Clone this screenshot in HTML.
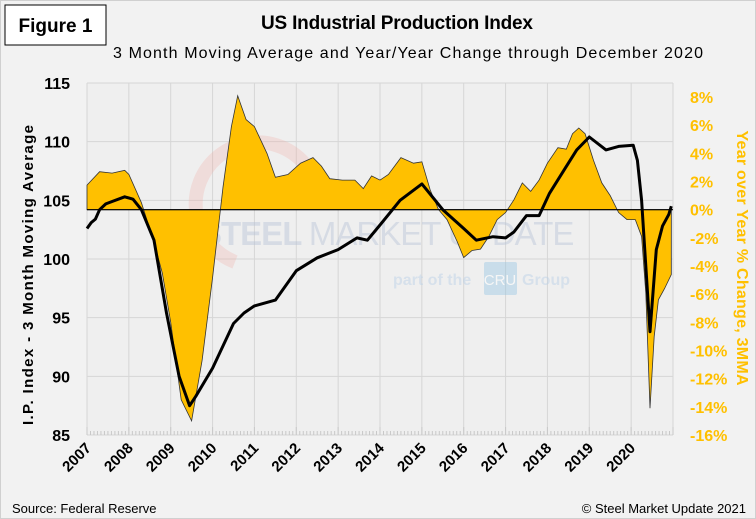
<!DOCTYPE html>
<html><head><meta charset="utf-8"><style>
body{margin:0;background:#f2f2f2;}
svg{display:block;font-family:"Liberation Sans",sans-serif;}
</style></head><body>
<svg id="chart" width="756" height="519" viewBox="0 0 756 519" xmlns="http://www.w3.org/2000/svg">
<rect x="0.5" y="0.5" width="755" height="518" fill="#f2f2f2" stroke="#d0d0d0"/>
<rect x="87" y="83" width="586" height="352" fill="#efefef"/>
<g id="grid"></g>
<g id="wm" opacity="0.45">
<path d="M235,262 A62,62 0 1 1 318,190" fill="none" stroke="#f0a8a0" stroke-width="14" opacity="0.6"/>
<text x="200" y="245" font-size="33" font-weight="bold" fill="#b8c4d8" letter-spacing="-1">STEEL <tspan font-weight="normal">MARKET UPDATE</tspan></text>
<text x="393" y="285" font-size="16" font-weight="bold" fill="#b8d0e8">part of the</text>
<rect x="484" y="262" width="33" height="33" rx="2" fill="#9cc8e4"/>
<text x="500" y="285" font-size="15" fill="#fff" text-anchor="middle">CRU</text>
<text x="522" y="285" font-size="16" font-weight="bold" fill="#b8d0e8">Group</text>
</g>
<g id="series"></g>
<g id="axes"></g>
<rect x="5" y="5" width="101" height="40" fill="#fff" stroke="#000"/>
<text x="55.5" y="32" font-size="19" font-weight="bold" text-anchor="middle">Figure 1</text>
<text x="397" y="29" font-size="19" font-weight="bold" text-anchor="middle" textLength="272">US Industrial Production  Index</text>
<text x="408" y="58" font-size="16" text-anchor="middle" textLength="590">3 Month Moving Average and Year/Year Change through December 2020</text>
<text transform="translate(33,275) rotate(-90)" font-size="15" font-weight="bold" text-anchor="middle" textLength="300">I.P. Index - 3 Month Moving Average</text>
<text transform="translate(737,258) rotate(90)" font-size="16" font-weight="bold" fill="#ffc000" text-anchor="middle" textLength="255">Year over Year % Change, 3MMA</text>
<text x="12" y="513" font-size="13">Source: Federal Reserve</text>
<text x="746" y="513" font-size="13" text-anchor="end">© Steel Market Update 2021</text>
</svg>
<script>
const ipDates=[2007.0,2007.1,2007.2,2007.3,2007.45,2007.6,2007.9,2008.1,2008.3,2008.6,2008.9,2009.2,2009.45,2009.6,2010.0,2010.5,2010.75,2011.0,2011.5,2012.0,2012.5,2013.0,2013.45,2013.7,2014.0,2014.48,2015.0,2015.5,2016.0,2016.3,2016.7,2017.0,2017.2,2017.5,2017.8,2018.05,2018.4,2018.7,2019.0,2019.4,2019.7,2020.05,2020.15,2020.25,2020.45,2020.6,2020.75,2020.9,2020.96];
const ipValues=[102.6,103.1,103.4,104.2,104.7,104.9,105.3,105.1,104.2,101.6,95.4,90,87.5,88.3,90.7,94.5,95.4,96.0,96.5,99,100.1,100.8,101.8,101.6,102.9,105.0,106.4,104.2,102.6,101.6,101.9,101.8,102.3,103.7,103.7,105.6,107.6,109.3,110.4,109.3,109.6,109.7,108.4,105,93.8,100.8,102.8,103.8,104.5];
const yoyDates=[2007.0,2007.3,2007.6,2007.9,2008.0,2008.3,2008.6,2008.8,2009.0,2009.25,2009.5,2009.75,2010.0,2010.25,2010.45,2010.6,2010.8,2011.0,2011.3,2011.5,2011.8,2012.1,2012.4,2012.6,2012.8,2013.1,2013.4,2013.6,2013.8,2014.0,2014.2,2014.5,2014.8,2015.0,2015.2,2015.4,2015.6,2015.85,2016.0,2016.2,2016.4,2016.6,2016.8,2017.0,2017.2,2017.4,2017.6,2017.8,2018.0,2018.25,2018.45,2018.6,2018.75,2018.9,2019.1,2019.3,2019.5,2019.7,2019.9,2020.1,2020.25,2020.35,2020.45,2020.55,2020.65,2020.8,2020.96];
const yoyValues=[1.75,2.7,2.6,2.8,2.5,0.5,-2.3,-4.5,-8,-13.5,-15,-10.7,-4.8,1.6,5.9,8.1,6.4,5.9,4.0,2.3,2.5,3.3,3.7,3.1,2.2,2.1,2.1,1.5,2.4,2.1,2.5,3.7,3.3,3.4,1.4,0,-0.7,-2.3,-3.4,-2.9,-2.8,-1.9,-0.7,-0.2,0.7,1.9,1.3,2.1,3.3,4.4,4.3,5.4,5.8,5.4,3.5,1.9,1.0,-0.2,-0.7,-0.7,-1.9,-5.9,-14.1,-9,-6.4,-5.6,-4.6];
const leftTicks=[85,90,95,100,105,110,115];
const rightTicks=[-16,-14,-12,-10,-8,-6,-4,-2,0,2,4,6,8];
const yearLabels=[2007,2008,2009,2010,2011,2012,2013,2014,2015,2016,2017,2018,2019,2020];

const NS="http://www.w3.org/2000/svg";
const X=t=>87+(t-2007)*(586/14);
const YL=v=>83+(115-v)*(352/30);
const YR=p=>209.7-p*14.08;
function mk(tag,attrs,parent){const e=document.createElementNS(NS,tag);for(const k in attrs)e.setAttribute(k,attrs[k]);parent.appendChild(e);return e;}
const grid=document.getElementById('grid'),series=document.getElementById('series'),axes=document.getElementById('axes');
leftTicks.forEach(v=>{
 const l=mk('line',{x1:87,x2:673,y1:YL(v),y2:YL(v),stroke:'#d6d6d6'},grid);
 
 
 const t=mk('text',{x:70,y:YL(v)+6,'font-size':16,'font-weight':'bold','text-anchor':'end'},axes);
 t.textContent=v;
 
 
});
yearLabels.forEach(y=>{
 const l=mk('line',{x1:X(y),x2:X(y),y1:83,y2:435,stroke:'#d6d6d6'},grid);
 
 
 const t=mk('text',{transform:`translate(${X(y)+5},${449}) rotate(-45)`,'font-size':15,'font-weight':'bold','text-anchor':'end'},axes);
 t.textContent=y;
 
 
});
mk('line',{x1:673,x2:673,y1:83,y2:435,stroke:'#d6d6d6'},grid);
for(let m=0;m<=168;m++){const x=87+m*586/168;mk('line',{x1:x,x2:x,y1:m%12?431:427,y2:435,stroke:'#c8c8c8'},grid);}
rightTicks.forEach(p=>{
 const t=mk('text',{x:690,y:YR(p)+6,'font-size':16,'font-weight':'bold',fill:'#ffc000'},axes);
 t.textContent=p+'%';
 
 
});
let d=`M${X(yoyDates[0])},${YR(0)}`;
yoyDates.forEach((t,i)=>{d+=` L${X(t).toFixed(1)},${YR(yoyValues[i]).toFixed(1)}`;});
d+=` L${X(yoyDates[yoyDates.length-1])},${YR(0)} Z`;
const area=mk('path',{d:d,fill:'#ffc000',stroke:'#333','stroke-width':0.8},series);


const zl=mk('line',{x1:X(yoyDates[0]),x2:673,y1:YR(0),y2:YR(0),stroke:'#000','stroke-width':1.2},series);


const pts=ipDates.map((t,i)=>X(t).toFixed(1)+','+YL(ipValues[i]).toFixed(1)).join(' ');
const ln=mk('polyline',{points:pts,fill:'none',stroke:'#000','stroke-width':3,'stroke-linejoin':'round'},series);


</script>
</body></html>
